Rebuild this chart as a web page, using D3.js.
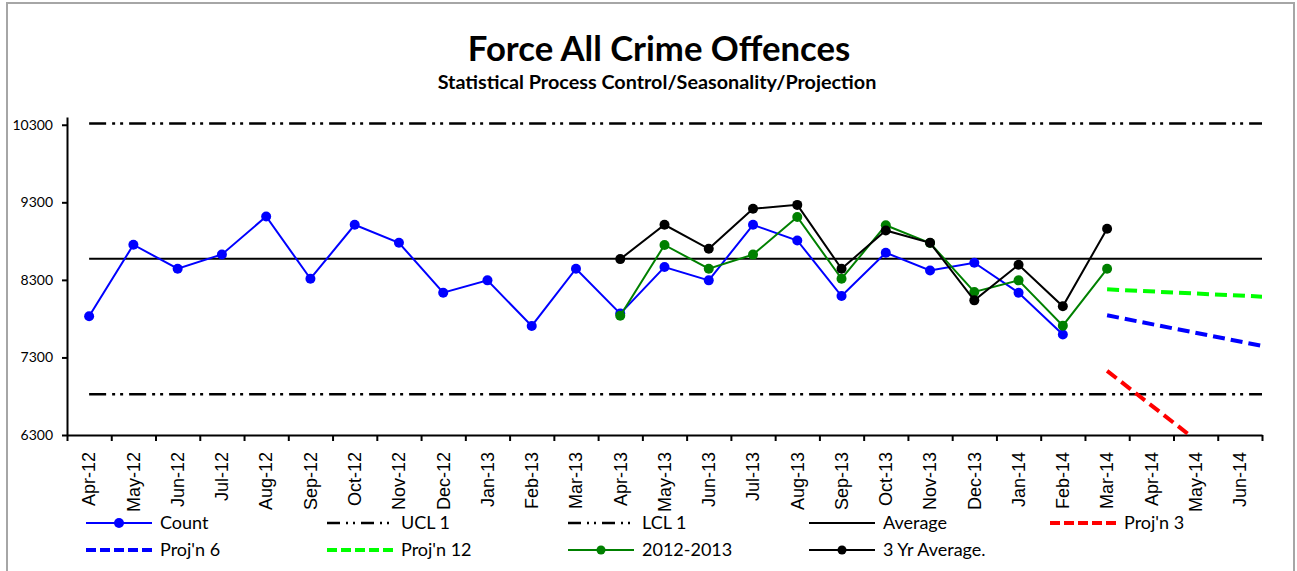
<!DOCTYPE html>
<html>
<head>
<meta charset="utf-8">
<script src="https://cdn.jsdelivr.net/npm/d3@7"></script>
<style>
  body { margin: 0; background: #fff; }
  text { font-family: Lato, "Open Sans", sans-serif; fill: #000; }
</style>
</head>
<body>
<div id="chart"></div>
<script>
// Data
var months = ["Apr-12", "May-12", "Jun-12", "Jul-12", "Aug-12", "Sep-12", "Oct-12", "Nov-12", "Dec-12",
  "Jan-13", "Feb-13", "Mar-13", "Apr-13", "May-13", "Jun-13", "Jul-13", "Aug-13", "Sep-13", "Oct-13",
  "Nov-13", "Dec-13", "Jan-14", "Feb-14", "Mar-14", "Apr-14", "May-14", "Jun-14"];

var countVals = [7831, 8753, 8444, 8628, 9117, 8315, 9010, 8778, 8135, 8294, 7706, 8444,
  7865, 8465, 8294, 9010, 8808, 8092, 8650, 8422, 8521, 8135, 7595, null, null, null, null];

var prevYearVals = [null, null, null, null, null, null, null, null, null, null, null, null,
  7837, 8750, 8444, 8626, 9111, 8315, 9005, 8775, 8144, 8294, 7710, 8443, null, null, null];

var threeYrVals = [null, null, null, null, null, null, null, null, null, null, null, null,
  8568, 9010, 8701, 9216, 9267, 8444, 8937, 8778, 8036, 8495, 7959, 8959, null, null, null];

var averageVal = 8573;
var uclVal = 10317;
var lclVal = 6827;

// projections run from Mar-14 to the right edge of the plot: [start, end]
var projFrom = "Mar-14";
var proj3 = [7127, 5570];
var proj6 = [7843, 7449];
var proj12 = [8178, 8084];

var yTicks = [6300, 7300, 8300, 9300, 10300];
var yDomain = [6300, 10400];

// svg container
var svgWidth = 1297;
var svgHeight = 571;

var margin = { top: 117, right: 35, bottom: 136, left: 67 };
var chartWidth = svgWidth - margin.left - margin.right;
var chartHeight = svgHeight - margin.top - margin.bottom;

var svg = d3.select("#chart")
  .append("svg")
  .attr("width", svgWidth)
  .attr("height", svgHeight);

// outer frame
svg.append("rect")
  .attr("x", 7).attr("y", 3)
  .attr("width", 1287).attr("height", 620)
  .attr("fill", "none")
  .attr("stroke", "#a6a6a6")
  .attr("stroke-width", 2);

// titles
svg.append("text")
  .attr("x", 659).attr("y", 61)
  .attr("text-anchor", "middle")
  .style("font-size", "34.7px")
  .style("font-weight", "bold")
  .text("Force All Crime Offences");

svg.append("text")
  .attr("x", 657).attr("y", 89)
  .attr("text-anchor", "middle")
  .style("font-size", "19.8px")
  .style("font-weight", "bold")
  .text("Statistical Process Control/Seasonality/Projection");

var chartGroup = svg.append("g")
  .attr("transform", `translate(${margin.left}, ${margin.top})`);

// Create scale functions
var xBand = d3.scaleBand().domain(months).range([0, chartWidth]);
var xMid = m => xBand(m) + xBand.bandwidth() / 2;

var yLinearScale = d3.scaleLinear().domain(yDomain).range([chartHeight, 0]);

// clip for the projections
chartGroup.append("clipPath").attr("id", "plotClip")
  .append("rect").attr("width", chartWidth).attr("height", chartHeight);

// Axes
var yAxis = d3.axisLeft(yLinearScale).tickValues(yTicks).tickSize(5).tickSizeOuter(0).tickFormat(d3.format("d"));
var yAxisG = chartGroup.append("g").call(yAxis);
yAxisG.select(".domain").attr("stroke-width", 2);
yAxisG.selectAll(".tick line").attr("stroke-width", 2);
yAxisG.selectAll(".tick text")
  .attr("x", -14)
  .style("font-size", "14px")
  .style("font-family", "Lato, sans-serif");

var xTickScale = d3.scaleLinear().domain([0, months.length]).range([0, chartWidth]);
var xAxis = d3.axisBottom(xTickScale).tickValues(d3.range(0, months.length + 1)).tickSize(6).tickSizeOuter(0).tickFormat("");
var xAxisG = chartGroup.append("g")
  .attr("transform", `translate(0, ${chartHeight})`)
  .call(xAxis);
xAxisG.select(".domain").attr("stroke-width", 2);
xAxisG.selectAll(".tick line").attr("stroke-width", 2);

// month labels, rotated
chartGroup.append("g")
  .selectAll("text")
  .data(months)
  .enter()
  .append("text")
  .attr("transform", d => `translate(${xMid(d)}, ${chartHeight + 17}) rotate(-90)`)
  .attr("text-anchor", "end")
  .attr("dy", "0.35em")
  .style("font-family", "'Liberation Sans', Arial, sans-serif")
  .style("font-size", "18px")
  .text(d => d);

// control lines: from first month to the plot edge
var firstX = xMid(months[0]);
var dashDotDot = "17,6,3,5,3,6";

function hLine(v, dash) {
  chartGroup.append("line")
    .attr("x1", firstX).attr("x2", chartWidth)
    .attr("y1", yLinearScale(v)).attr("y2", yLinearScale(v))
    .attr("stroke", "#000")
    .attr("stroke-width", dash ? 2.5 : 2)
    .attr("stroke-dasharray", dash);
}
hLine(uclVal, dashDotDot);
hLine(lclVal, dashDotDot);
hLine(averageVal, null);

// series lines with markers
var lineGen = d3.line()
  .defined(d => d.v != null)
  .x(d => xMid(d.m))
  .y(d => yLinearScale(d.v));

function drawSeries(vals, color, r) {
  var data = months.map((m, i) => ({ m: m, v: vals[i] }));
  chartGroup.append("path")
    .datum(data)
    .attr("d", lineGen)
    .attr("fill", "none")
    .attr("stroke", color)
    .attr("stroke-width", 2);
  chartGroup.append("g")
    .selectAll("circle")
    .data(data.filter(d => d.v != null))
    .enter()
    .append("circle")
    .attr("cx", d => xMid(d.m))
    .attr("cy", d => yLinearScale(d.v))
    .attr("r", r)
    .style("fill", color);
}

drawSeries(countVals, "#0000ff", 5);
drawSeries(prevYearVals, "#008000", 5);
drawSeries(threeYrVals, "#000000", 5);

// projections
function drawProj(vals, color) {
  chartGroup.append("line")
    .attr("clip-path", "url(#plotClip)")
    .attr("x1", xMid(projFrom)).attr("x2", chartWidth)
    .attr("y1", yLinearScale(vals[0])).attr("y2", yLinearScale(vals[1]))
    .attr("stroke", color)
    .attr("stroke-width", 4)
    .attr("stroke-dasharray", "12,6");
}
drawProj(proj12, "#00ff00");
drawProj(proj6, "#0000ff");
drawProj(proj3, "#ff0000");

// Legend
var legendItems = [
  { name: "Count", color: "#0000ff", type: "marker", col: 0, row: 0 },
  { name: "UCL 1", color: "#000", type: "dashdot", col: 1, row: 0 },
  { name: "LCL 1", color: "#000", type: "dashdot", col: 2, row: 0 },
  { name: "Average", color: "#000", type: "solid", col: 3, row: 0 },
  { name: "Proj'n 3", color: "#ff0000", type: "dash", col: 4, row: 0 },
  { name: "Proj'n 6", color: "#0000ff", type: "dash", col: 0, row: 1 },
  { name: "Proj'n 12", color: "#00ff00", type: "dash", col: 1, row: 1 },
  { name: "2012-2013", color: "#008000", type: "marker", col: 2, row: 1 },
  { name: "3 Yr Average.", color: "#000", type: "marker", col: 3, row: 1 }
];

var legend = svg.append("g");
var legendG = legend.selectAll("g")
  .data(legendItems)
  .enter()
  .append("g")
  .attr("transform", d => `translate(${86 + d.col * 241}, ${523 + d.row * 27})`);

legendG.append("line")
  .attr("x1", 0).attr("x2", d => d.type == "dash" ? 67 : 66)
  .attr("stroke", d => d.color)
  .attr("stroke-width", d => d.type == "dash" ? 4 : (d.type == "dashdot" ? 2.5 : 2))
  .attr("stroke-dasharray", d => d.type == "dash" ? "10,4" : (d.type == "dashdot" ? "13,6,2,5,2,6" : null));

legendG.filter(d => d.type == "marker")
  .append("circle")
  .attr("cx", 33)
  .attr("r", d => d.name == "Count" ? 5 : 4.5)
  .style("fill", d => d.color);

legendG.append("text")
  .attr("x", 74)
  .attr("dy", "0.35em")
  .style("font-size", "18px")
  .text(d => d.name);
</script>
</body>
</html>
